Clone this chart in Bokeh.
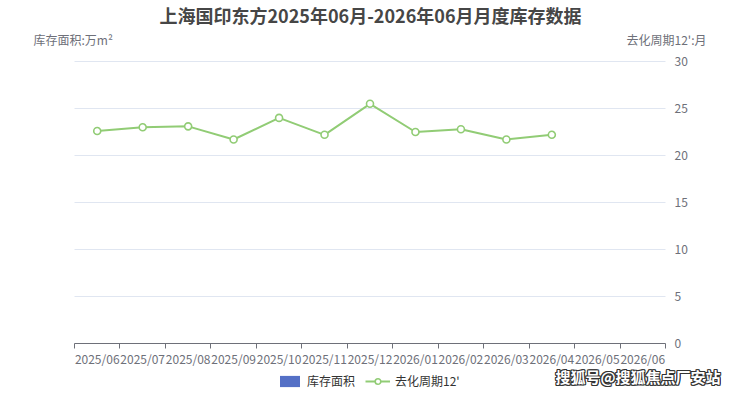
import math
from bokeh.plotting import figure
from bokeh.models import (Range1d, LinearAxis, FixedTicker, Label, Legend, LegendItem,
                          ColumnDataSource)
from bokeh.embed import file_html
from bokeh.resources import INLINE

# ---------------- data ----------------
title_text = "上海国印东方2025年06月-2026年06月月度库存数据"
left_axis_name = "库存面积:万m²"
right_axis_name = "去化周期12':月"
series_names = ["库存面积", "去化周期12'"]
watermark = "搜狐号@搜狐焦点厂安站"

months = ["2025/06", "2025/07", "2025/08", "2025/09", "2025/10", "2025/11",
          "2025/12", "2026/01", "2026/02", "2026/03", "2026/04", "2026/05", "2026/06"]
inventory = [math.nan] * len(months)          # no inventory bars shown
cycle = [22.6, 23.0, 23.1, 21.7, 24.0, 22.2, 25.5, 22.5, 22.8, 21.7, 22.2]
y_ticks = [0, 5, 10, 15, 20, 25, 30]

# ---------------- style / layout ----------------
FONT = "Noto Sans CJK SC"
AXIS_COLOR = "#6E7079"
GRID_COLOR = "#E0E6F1"
GREEN = "#91CC75"
BLUE = "#5470C6"

W, H = 724, 390
# plot area in canvas pixels
PL, PR, PT, PB = 74, 665, 61, 343

n = len(months)
ymin, ymax = y_ticks[0], y_ticks[-1]
xs_per_px = n / (PR - PL)
ys_per_px = (ymax - ymin) / (PB - PT)
x_range = Range1d(0 - PL * xs_per_px, n + (W - PR) * xs_per_px)
y_range = Range1d(ymin - (H - PB) * ys_per_px, ymax + PT * ys_per_px)

p = figure(width=W, height=H, output_backend="svg", toolbar_location=None,
           x_range=x_range, y_range=y_range,
           x_axis_location=None, y_axis_location=None,
           min_border=0, min_border_left=0, min_border_right=0,
           min_border_top=0, min_border_bottom=0,
           background_fill_color="white", border_fill_color="white",
           outline_line_color=None)
p.xgrid.visible = False
p.ygrid.visible = False

# horizontal grid lines across the plot area only
p.segment(x0=[0] * len(y_ticks), x1=[n] * len(y_ticks), y0=y_ticks, y1=y_ticks,
          line_color=GRID_COLOR, line_width=1, level="underlay")

# right value axis, pinned to the right edge of the plot area
yaxis = LinearAxis(ticker=FixedTicker(ticks=y_ticks, minor_ticks=[]),
                   fixed_location=n, bounds=(ymin, ymax),
                   axis_line_color=None, major_tick_line_color=None,
                   minor_tick_line_color=None, major_tick_out=0, major_tick_in=0,
                   major_label_standoff=9, major_label_text_color=AXIS_COLOR,
                   major_label_text_font_size="12px", major_label_text_font=FONT)
p.add_layout(yaxis, "right")

# category axis: ticks at boundaries, labels at centres
centers = [i + 0.5 for i in range(n)]
xaxis = LinearAxis(ticker=FixedTicker(ticks=centers, minor_ticks=list(range(n + 1))),
                   fixed_location=ymin, bounds=(0, n),
                   major_label_overrides={c: m for c, m in zip(centers, months)},
                   axis_line_color=AXIS_COLOR, axis_line_width=1,
                   major_tick_line_color=None, major_tick_out=0, major_tick_in=0,
                   minor_tick_line_color=AXIS_COLOR, minor_tick_out=5, minor_tick_in=0,
                   major_label_standoff=1, major_label_text_color=AXIS_COLOR,
                   major_label_text_font_size="12px", major_label_text_font=FONT)
p.add_layout(xaxis, "below")

# series
bar_src = ColumnDataSource(dict(x=centers, top=inventory))
bar = p.vbar(x="x", top="top", width=0.6, source=bar_src, fill_color=BLUE, line_color=None)

src = ColumnDataSource(dict(x=centers[:len(cycle)], y=cycle))
line = p.line("x", "y", source=src, line_color=GREEN, line_width=2)
pts = p.scatter("x", "y", source=src, marker="circle", size=7, fill_color="white",
                line_color=GREEN, line_width=1.6)

legend = Legend(items=[LegendItem(label=series_names[0], renderers=[bar]),
                       LegendItem(label=series_names[1], renderers=[line, pts])],
                location=(277, 1), orientation="horizontal",
                glyph_width=25, glyph_height=14, label_height=14, label_standoff=5,
                spacing=10, padding=0, margin=0, border_line_color=None,
                background_fill_alpha=0, label_text_font=FONT,
                label_text_font_size="12px", label_text_color="#333333")
p.add_layout(legend, "center")


def lab(cx, cy, text, **kw):
    """cx, cy: canvas pixels from the top-left corner."""
    p.add_layout(Label(x=cx, y=H - cy, x_units="screen", y_units="screen", text=text,
                       text_font=FONT, text_baseline="middle", **kw))


lab(370, 14, title_text, text_align="center",
    text_font_size="18px", text_font_style="bold", text_color="#464646")
lab(33, 39, left_axis_name, text_align="left",
    text_font_size="12px", text_color=AXIS_COLOR)
lab(706, 39, right_axis_name, text_align="right",
    text_font_size="12px", text_color=AXIS_COLOR)

# watermark: white text with dark outline
for dx, dy in [(-1, 0), (1, 0), (0, -1), (0, 1), (-1, -1), (1, 1), (-1, 1), (1, -1)]:
    lab(720 + dx, 376 + dy, watermark, text_align="right",
        text_font_size="15px", text_font_style="bold", text_color="#333333")
lab(720, 376, watermark, text_align="right",
    text_font_size="15px", text_font_style="bold", text_color="white")

open("out.html", "w").write(file_html(p, INLINE))
